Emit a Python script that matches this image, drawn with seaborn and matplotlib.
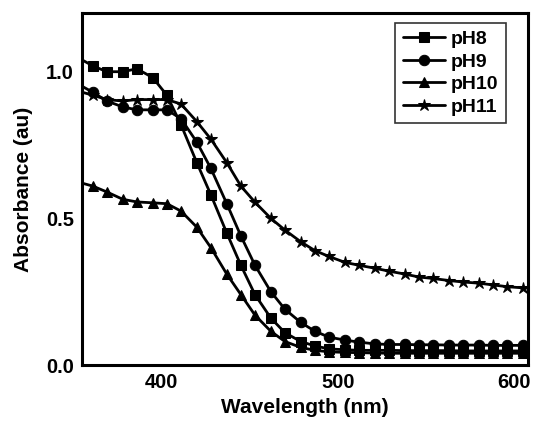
import matplotlib
matplotlib.use("Agg")
import matplotlib.pyplot as plt
import seaborn as sns
import pandas as pd

# wavelength grid (nm)
wavelength = [355, 361, 369, 378, 386, 395, 403, 411, 420, 428, 437, 445, 453, 462, 470,
              479, 487, 495, 504, 512, 521, 529, 538, 546, 554, 563, 571, 580, 588, 596, 605]

ph8 = [1.04, 1.02, 1.00, 1.00, 1.01, 0.98, 0.92, 0.82, 0.69, 0.58, 0.45, 0.34, 0.24, 0.16, 0.11,
       0.08, 0.065, 0.055, 0.052, 0.05, 0.05, 0.05, 0.049, 0.049, 0.049, 0.049, 0.048, 0.048,
       0.048, 0.048, 0.048]
ph9 = [0.95, 0.93, 0.90, 0.88, 0.87, 0.87, 0.87, 0.84, 0.76, 0.67, 0.55, 0.44, 0.34, 0.25, 0.19,
       0.145, 0.115, 0.095, 0.085, 0.078, 0.072, 0.07, 0.07, 0.069, 0.069, 0.068, 0.068, 0.068,
       0.067, 0.067, 0.067]
ph10 = [0.62, 0.61, 0.59, 0.565, 0.556, 0.553, 0.55, 0.525, 0.47, 0.40, 0.31, 0.24, 0.17, 0.115,
        0.08, 0.06, 0.05, 0.045, 0.043, 0.042, 0.041, 0.04, 0.04, 0.04, 0.04, 0.04, 0.04, 0.04,
        0.04, 0.04, 0.04]
ph11 = [0.93, 0.92, 0.905, 0.90, 0.905, 0.905, 0.905, 0.89, 0.83, 0.77, 0.69, 0.61, 0.555, 0.50,
        0.46, 0.42, 0.39, 0.37, 0.35, 0.34, 0.33, 0.32, 0.31, 0.30, 0.295, 0.288, 0.283, 0.279,
        0.273, 0.267, 0.263]

labels = ["pH8", "pH9", "pH10", "pH11"]
series = [ph8, ph9, ph10, ph11]
markers = ["s", "o", "^", "*"]
msizes = [7, 7.5, 7.5, 9]

sns.set_style("white")
plt.rcParams["font.family"] = ["Liberation Sans", "DejaVu Sans"]
plt.rcParams["font.weight"] = "bold"
# seaborn greys the text, the original is plain black
plt.rcParams["text.color"] = "black"
plt.rcParams["axes.labelcolor"] = "black"
plt.rcParams["xtick.color"] = "black"
plt.rcParams["ytick.color"] = "black"

fig = plt.figure(figsize=(5.48, 4.21), dpi=100)
ax = fig.add_axes([0.150, 0.133, 0.814, 0.836])

for lab, vals, mk, ms in zip(labels, series, markers, msizes):
    df = pd.DataFrame({"wl": wavelength, "ab": vals})
    sns.lineplot(data=df, x="wl", y="ab", ax=ax, color="black", linewidth=2.0,
                 marker=mk, markersize=ms, markeredgecolor="black",
                 markevery=slice(1, None), label=lab)

ax.set_xlim(355, 608)
ax.set_ylim(0, 1.2)
ax.set_xticks([400, 500, 600])
ax.set_yticks([0.0, 0.5, 1.0])
ax.set_yticklabels(["0.0", "0.5", "1.0"])
ax.tick_params(length=0, labelsize=14.5, pad=6, colors="black")
for t in ax.get_xticklabels() + ax.get_yticklabels():
    t.set_fontweight("bold")

ax.set_xlabel("Wavelength (nm)", fontsize=15, fontweight="bold", labelpad=4, color="black")
ax.set_ylabel("Absorbance (au)", fontsize=15, fontweight="bold", labelpad=9, color="black")

for sp in ax.spines.values():
    sp.set_visible(True)
    sp.set_color("black")
    sp.set_linewidth(2.2)

leg = ax.legend(loc="upper right", bbox_to_anchor=(0.951, 0.972), borderaxespad=0,
                frameon=True, fancybox=False, edgecolor="black", handlelength=2.2,
                labelspacing=0.25, handletextpad=0.3, borderpad=0.4,
                prop={"size": 14, "weight": "bold"}, labelcolor="black")
leg.get_frame().set_linewidth(1.2)

fig.savefig("out.png", dpi=100)
